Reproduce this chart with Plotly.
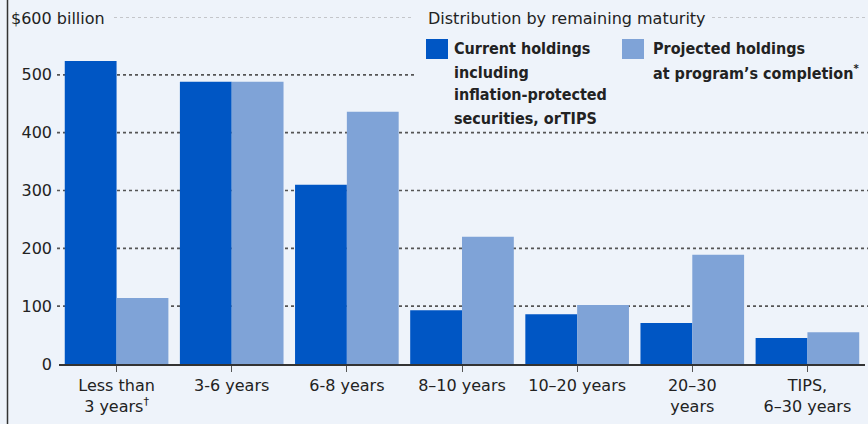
import plotly.graph_objects as go

categories = ["Less than<br>3 years<sup>†</sup>", "3-6 years", "6-8 years", "8–10 years",
              "10–20 years", "20–30<br>years", "TIPS,<br>6–30 years"]
current = [524, 488, 310, 93, 86, 71, 45]
projected = [114, 488, 436, 220, 102, 189, 55]
ytick_vals = [0, 100, 200, 300, 400, 500]
legend1_lines = ["Current holdings", "including", "inflation-protected", "securities, orTIPS"]
legend2_lines = ["Projected holdings", "at program’s completion<sup>*</sup>"]

BG = "#eef3fa"
C1 = "#0056c4"
C2 = "#7fa3d7"
FONT = "DejaVu Sans, Verdana, sans-serif"
FONT_B = "DejaVu Sans Condensed, DejaVu Sans, sans-serif"

fig = go.Figure()
fig.add_trace(go.Bar(x=categories, y=current, marker=dict(color=C1, line=dict(width=0)),
                     name="Current holdings"))
fig.add_trace(go.Bar(x=categories, y=projected, marker=dict(color=C2, line=dict(width=0)),
                     name="Projected holdings"))

L, R, T, B = 59, 3, 17, 60
W, H = 868, 424
pw = W - L - R
ph = H - T - B

def px_to_paper_x(px):
    return (px - L) / pw

def px_to_paper_y(py):
    return (H - B - py) / ph

shapes = []
for v in [100, 200, 300, 400]:
    shapes.append(dict(type="line", xref="paper", yref="y", x0=px_to_paper_x(57), x1=1.0 + R / pw,
                       y0=v, y1=v, line=dict(color="#555555", width=1.6, dash="dot"), layer="below"))
shapes.append(dict(type="line", xref="paper", yref="y", x0=px_to_paper_x(57), x1=px_to_paper_x(414),
                   y0=500, y1=500, line=dict(color="#555555", width=1.6, dash="dot"), layer="below"))
shapes.append(dict(type="line", xref="paper", yref="y", x0=px_to_paper_x(114), x1=px_to_paper_x(414),
                   y0=600, y1=600, line=dict(color="#9a9a9a", width=1, dash="dot"), layer="below"))
shapes.append(dict(type="line", xref="paper", yref="y", x0=px_to_paper_x(712), x1=1.0 + R / pw,
                   y0=600, y1=600, line=dict(color="#9a9a9a", width=1, dash="dot"), layer="below"))
shapes.append(dict(type="line", xref="paper", yref="paper", x0=px_to_paper_x(7.5), x1=px_to_paper_x(7.5),
                   y0=px_to_paper_y(H), y1=px_to_paper_y(0), line=dict(color="#333333", width=1.5)))
shapes.append(dict(type="rect", xref="paper", yref="paper", x0=px_to_paper_x(426), x1=px_to_paper_x(448),
                   y0=px_to_paper_y(59), y1=px_to_paper_y(39), fillcolor=C1, line=dict(width=0)))
shapes.append(dict(type="rect", xref="paper", yref="paper", x0=px_to_paper_x(622), x1=px_to_paper_x(644),
                   y0=px_to_paper_y(59), y1=px_to_paper_y(39), fillcolor=C2, line=dict(width=0)))

annotations = [
    dict(text="$600 billion", xref="paper", yref="paper", x=px_to_paper_x(9), y=px_to_paper_y(18),
         xanchor="left", yanchor="middle", showarrow=False,
         font=dict(family=FONT, size=16, color="#222222")),
    dict(text="Distribution by remaining maturity", xref="paper", yref="paper", x=px_to_paper_x(426),
         y=px_to_paper_y(18), xanchor="left", yanchor="middle", showarrow=False,
         font=dict(family=FONT, size=16, color="#222222")),
]
line_y = [49, 72, 95, 118]
for i, t in enumerate(legend1_lines):
    annotations.append(dict(text="<b>" + t + "</b>", xref="paper", yref="paper", x=px_to_paper_x(452),
                            y=px_to_paper_y(line_y[i]), xanchor="left", yanchor="middle",
                            showarrow=False, font=dict(family=FONT_B, size=16, color="#222222")))
for i, t in enumerate(legend2_lines):
    annotations.append(dict(text="<b>" + t + "</b>", xref="paper", yref="paper", x=px_to_paper_x(651),
                            y=px_to_paper_y(line_y[i]), xanchor="left", yanchor="middle",
                            showarrow=False, font=dict(family=FONT_B, size=16, color="#222222")))

fig.update_layout(
    width=W, height=H,
    margin=dict(l=L, r=R, t=T, b=B),
    paper_bgcolor=BG, plot_bgcolor=BG,
    barmode="group", bargap=0.1, bargroupgap=0,
    showlegend=False,
    shapes=shapes, annotations=annotations,
    font=dict(family=FONT, size=16, color="#222222"),
    xaxis=dict(showgrid=False, showline=True, linecolor="#333333", linewidth=2,
               ticks="outside", ticklen=6, tickcolor="#555555", tickwidth=1,
               tickfont=dict(family=FONT, size=16, color="#222222"), range=[-0.5, 6.5]),
    yaxis=dict(range=[0, 600], tickvals=ytick_vals, showgrid=False, zeroline=False,
               showline=False, ticks="", ticklabelstandoff=6,
               tickfont=dict(family=FONT, size=16, color="#222222")),
)

fig.write_html("out.html")
